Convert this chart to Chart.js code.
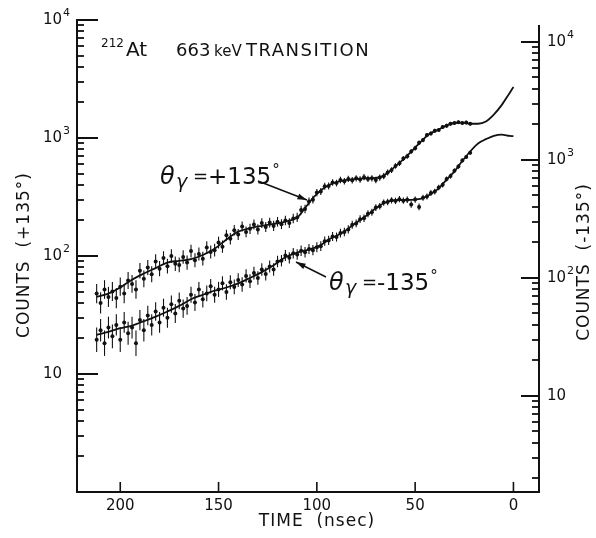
<!DOCTYPE html>
<html>
<head>
<meta charset="utf-8">
<script src="https://cdn.jsdelivr.net/npm/chart.js@4.4.0/dist/chart.umd.min.js"></script>
<style>
  body { margin: 0; background: #fff; }
  #wrap { width: 596px; height: 538px; }
</style>
</head>
<body>
<div id="wrap"><canvas id="chart" width="596" height="538"></canvas></div>
<script>
// time of each channel (nsec), same channels for both detectors
const channelTimes = [212,210,208,206,204,202,200,198,196,194,192,190,188,186,184,182,180,178,176,174,
  172,170,168,166,164,162,160,158,156,154,152,150,148,146,144,142,140,138,136,134,
  132,130,128,126,124,122,120,118,116,114,112,110,108,106,104,102,100,98,96,94,
  92,90,88,86,84,82,80,78,76,74,72,70,68,66,64,62,60,58,56,54,
  52,50,48,46,44,42,40,38,36,34,32,30,28,26,24,22];

// counts at theta = +135 (left axis)
const countsPlus = [48,40,52,45,50,44,55,48,62,58,
  52,75,64,80,70,90,78,96,82,100,
  86,84,98,88,110,92,104,95,118,108,
  112,130,120,150,140,165,152,178,160,170,
  185,168,190,176,192,180,195,186,200,190,
  208,212,245,250,290,300,345,352,390,392,
  420,415,440,430,450,438,455,445,465,450,
  455,440,462,475,510,535,580,610,670,700,
  770,820,910,960,1060,1090,1150,1170,1240,1270,
  1320,1340,1360,1340,1350,1320];

// counts at theta = -135 (right axis)
const countsMinus = [30,36,28,38,32,40,30,42,34,38,
  28,44,36,48,40,52,42,56,46,60,
  50,64,55,58,72,62,80,66,74,85,
  72,80,90,76,92,84,96,88,104,94,
  110,100,118,108,125,118,138,140,155,148,
  162,158,170,165,176,172,182,186,205,208,
  225,222,240,245,258,282,290,315,320,350,
  360,395,405,435,440,455,450,465,452,460,
  420,462,400,478,490,525,540,585,615,690,
  730,810,880,990,1060,1150];

// fitted curves
const fitTimes = [212,206,200,194,188,182,176,170,164,158,152,146,140,134,128,122,116,110,106,102,
  98,94,90,86,82,78,74,70,66,62,58,54,50,46,42,38,34,30,26,22,18,14,10,6,2,0];
const fitPlus = [45,48,54,63,71,79,88,91,94,102,115,138,161,172,180,187,196,212,255,310,
  360,398,423,438,446,453,456,458,480,540,615,710,830,970,1100,1180,1280,1340,1350,1320,
  1320,1380,1580,1900,2400,2700];
const fitMinus = [33,35,37.5,39.5,43,47,52,58,66,72,78,83,90,100,112,128,150,164,171,178,
  190,212,228,248,278,310,345,390,430,452,458,458,462,475,515,575,680,800,980,1180,
  1380,1500,1600,1640,1600,1590];

const timeTicks = [200, 150, 100, 50, 0];
const decadeTicks = [1, 10, 100, 1000, 10000];
const decadeExp = ['', '', '2', '3', '4'];
const minorSteps = [2, 3, 4, 5, 6, 7, 8, 9];

const toXY = (ts, vs) => ts.map((t, i) => ({ x: t, y: vs[i] }));

const LABEL_FONT = '15px "DejaVu Sans"';

function drawPow(ctx, exp, x, y, align) {
  ctx.font = LABEL_FONT;
  ctx.textBaseline = 'middle';
  const w = ctx.measureText('10').width;
  const x0 = align === 'right' ? x - w : x;
  ctx.textAlign = 'left';
  ctx.fillText('10', x0, y);
  if (exp) {
    ctx.font = '11px "DejaVu Sans"';
    ctx.fillText(exp, x0 + w + 1, y - 7);
  }
}

function arrow(ctx, x1, y1, x2, y2) {
  ctx.beginPath();
  ctx.moveTo(x1, y1);
  ctx.lineTo(x2, y2);
  ctx.stroke();
  const a = Math.atan2(y2 - y1, x2 - x1);
  ctx.beginPath();
  ctx.moveTo(x2, y2);
  ctx.lineTo(x2 - 10 * Math.cos(a - 0.3), y2 - 10 * Math.sin(a - 0.3));
  ctx.lineTo(x2 - 10 * Math.cos(a + 0.3), y2 - 10 * Math.sin(a + 0.3));
  ctx.closePath();
  ctx.fill();
}

// horizontal tick as a filled bar
function tick(ctx, x0, y, len, w) {
  const yy = Math.round(y);
  ctx.fillRect(Math.min(x0, x0 + len), yy - w / 2, Math.abs(len), w);
}

const inkPlugin = {
  id: 'ink',
  beforeDatasetsDraw(chart) {
    // error bars ~ poisson
    const ctx = chart.ctx;
    ctx.save();
    ctx.strokeStyle = '#111';
    ctx.lineWidth = 1.1;
    [2, 3].forEach((di) => {
      const ds = chart.data.datasets[di];
      const sc = chart.scales[ds.yAxisID];
      chart.getDatasetMeta(di).data.forEach((pt, i) => {
        const v = ds.data[i].y;
        const h = 0.57 / Math.sqrt(v);
        ctx.beginPath();
        ctx.moveTo(pt.x, sc.getPixelForValue(v * Math.pow(10, h)));
        ctx.lineTo(pt.x, sc.getPixelForValue(v / Math.pow(10, h)));
        ctx.stroke();
      });
    });
    ctx.restore();
  },
  afterDraw(chart) {
    const { ctx, chartArea: a, scales } = chart;
    const x = scales.x, yL = scales.yL, yR = scales.yR;
    ctx.save();
    ctx.strokeStyle = '#111';
    ctx.fillStyle = '#111';
    ctx.lineWidth = 2;

    // frame: left, bottom, right
    ctx.beginPath();
    ctx.moveTo(a.left, a.top);
    ctx.lineTo(a.left, a.bottom);
    ctx.lineTo(a.right, a.bottom);
    ctx.lineTo(a.right, a.top + 5);
    ctx.stroke();

    // time ticks
    ctx.lineWidth = 1.6;
    timeTicks.forEach((t) => {
      const px = x.getPixelForValue(t);
      ctx.beginPath();
      ctx.moveTo(px, a.bottom);
      ctx.lineTo(px, a.bottom - 10);
      ctx.stroke();
    });
    ctx.font = LABEL_FONT;
    ctx.textAlign = 'center';
    ctx.textBaseline = 'middle';
    timeTicks.forEach((t) => ctx.fillText(String(t), x.getPixelForValue(t), a.bottom + 14));

    // log ticks, both sides
    for (const d of decadeTicks) {
      const pl = yL.getPixelForValue(d);
      if (pl >= a.top - 1 && pl <= a.bottom + 1) tick(ctx, a.left - 1, pl, 22, 2);
      const pr = yR.getPixelForValue(d);
      if (pr >= a.top && pr <= a.bottom) tick(ctx, a.right + 1, pr, -19, 2);
      for (const m of minorSteps) {
        const ql = yL.getPixelForValue(d * m);
        if (ql > a.top + 1 && ql < a.bottom - 1) tick(ctx, a.left - 1, ql, 8, 1.8);
        const qr = yR.getPixelForValue(d * m);
        if (qr > a.top + 5 && qr < a.bottom - 1) tick(ctx, a.right + 1, qr, -8, 1.8);
      }
    }
    decadeTicks.forEach((d, k) => {
      if (d < 10) return;
      drawPow(ctx, decadeExp[k], a.left - 15, yL.getPixelForValue(d), 'right');
      drawPow(ctx, decadeExp[k], a.right + 8, yR.getPixelForValue(d), 'left');
    });

    // axis titles
    ctx.font = '17px "DejaVu Sans"';
    ctx.textAlign = 'center';
    ctx.textBaseline = 'middle';
    ctx.letterSpacing = '1px';
    ctx.fillText('TIME  (nsec)', 317, 522);
    ctx.save();
    ctx.translate(25, 255);
    ctx.rotate(-Math.PI / 2);
    ctx.fillText('COUNTS  (+135°)', 0, 0);
    ctx.restore();
    ctx.save();
    ctx.translate(585, 262);
    ctx.rotate(-Math.PI / 2);
    ctx.fillText('COUNTS  (-135°)', 0, 0);
    ctx.restore();

    // title
    ctx.textAlign = 'left';
    ctx.textBaseline = 'alphabetic';
    ctx.letterSpacing = '0px';
    ctx.font = '12px "DejaVu Sans"';
    ctx.fillText('212', 101, 47);
    ctx.font = '20px "DejaVu Sans"';
    ctx.fillText('At', 126, 56);
    ctx.font = '18px "DejaVu Sans"';
    ctx.fillText('663', 176, 56);
    ctx.font = '15px "DejaVu Sans"';
    ctx.fillText('keV', 214, 56);
    ctx.font = '18px "DejaVu Sans"';
    ctx.letterSpacing = '1.5px';
    ctx.fillText('TRANSITION', 246, 56);
    ctx.letterSpacing = '0px';

    // angle labels
    const angleLabel = (x0, base, sign) => {
      ctx.font = 'italic 24px "DejaVu Sans"';
      ctx.fillText('θ', x0, base);
      ctx.font = 'italic 19px "DejaVu Sans"';
      ctx.fillText('γ', x0 + 16, base + 4);
      ctx.font = '18px "DejaVu Sans"';
      ctx.fillText('=', x0 + 33, base - 2);
      ctx.font = '23px "DejaVu Sans"';
      ctx.fillText(sign + '135', x0 + 48, base);
      const w = ctx.measureText(sign + '135').width;
      ctx.font = '15px "DejaVu Sans"';
      ctx.fillText('°', x0 + 49 + w, base - 9);
    };
    angleLabel(160, 184, '+');
    angleLabel(329, 290, '-');

    ctx.lineWidth = 1.5;
    arrow(ctx, 258, 181, 307, 200);
    arrow(ctx, 326, 277, 296, 262);
    ctx.restore();
  }
};

new Chart(document.getElementById('chart'), {
  type: 'scatter',
  data: {
    datasets: [
      { label: 'fit +135', data: toXY(fitTimes, fitPlus), yAxisID: 'yL', showLine: true,
        pointRadius: 0, borderColor: '#111', borderWidth: 1.8, cubicInterpolationMode: 'monotone' },
      { label: 'fit -135', data: toXY(fitTimes, fitMinus), yAxisID: 'yR', showLine: true,
        pointRadius: 0, borderColor: '#111', borderWidth: 1.8, cubicInterpolationMode: 'monotone' },
      { label: '+135', data: toXY(channelTimes, countsPlus), yAxisID: 'yL',
        pointRadius: 2, backgroundColor: '#111', borderColor: '#111', borderWidth: 0 },
      { label: '-135', data: toXY(channelTimes, countsMinus), yAxisID: 'yR',
        pointRadius: 2, backgroundColor: '#111', borderColor: '#111', borderWidth: 0 }
    ]
  },
  options: {
    responsive: false,
    animation: false,
    devicePixelRatio: 1,
    layout: { padding: { left: 77, right: 57, top: 20, bottom: 46 } },
    plugins: { legend: { display: false }, tooltip: { enabled: false } },
    scales: {
      x: { type: 'linear', reverse: true, min: -13, max: 222, display: false },
      yL: { type: 'logarithmic', position: 'left', min: 1, max: 10000, display: false },
      yR: { type: 'logarithmic', position: 'right', min: 1.535, max: 15350, display: false }
    }
  },
  plugins: [inkPlugin]
});
</script>
</body>
</html>
